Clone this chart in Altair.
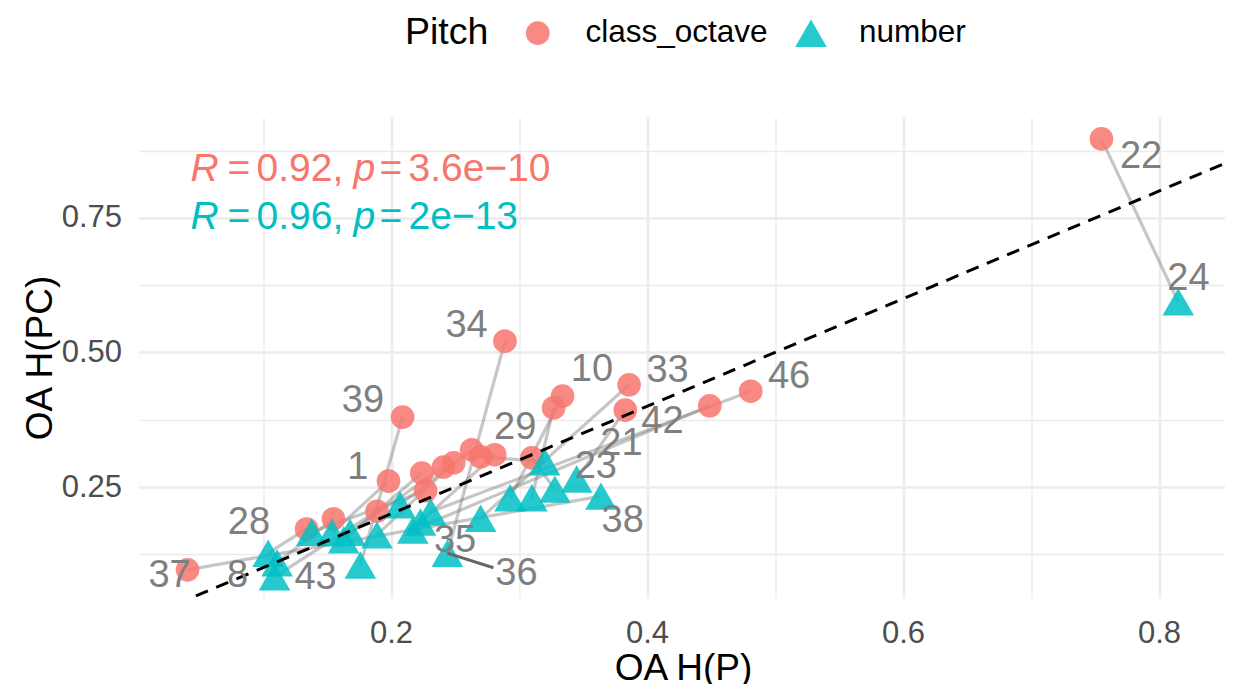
import altair as alt
import pandas as pd

# ---------------- data ----------------
pair_ids = list(range(1, 23))
octave_x = [0.755, 0.289, 0.209, 0.334, 0.327, 0.386, 0.383, 0.481, 0.449, 0.041, 0.310,
            0.134, 0.155, 0.189, 0.198, 0.224, 0.227, 0.241, 0.249, 0.263, 0.270, 0.281]
octave_y = [0.897, 0.521, 0.380, 0.419, 0.397, 0.440, 0.393, 0.428, 0.401, 0.096, 0.304,
            0.172, 0.191, 0.205, 0.261, 0.276, 0.243, 0.287, 0.295, 0.319, 0.306, 0.310]
number_x = [0.815, 0.244, 0.176, 0.293, 0.310, 0.270, 0.345, 0.231, 0.217, 0.364, 0.328,
            0.104, 0.111, 0.109, 0.154, 0.163, 0.138, 0.168, 0.189, 0.207, 0.320, 0.223]
number_y = [0.594, 0.127, 0.105, 0.230, 0.230, 0.192, 0.265, 0.204, 0.170, 0.233, 0.246,
            0.127, 0.109, 0.083, 0.165, 0.152, 0.166, 0.166, 0.161, 0.217, 0.297, 0.185]

categories = ["class_octave", "number"]
cat_colors = ["#F8766D", "#00BFC4"]
cat_shapes = ["circle", "triangle-up"]

label_text = ["22", "24", "37", "8", "43", "28", "1", "39", "34", "35", "36",
              "29", "10", "33", "21", "23", "38", "42", "46"]
label_x = [0.786, 0.823, 0.027, 0.080, 0.141, 0.089, 0.174, 0.178, 0.259, 0.250, 0.298,
           0.297, 0.357, 0.416, 0.380, 0.360, 0.381, 0.412, 0.511]
label_y = [0.863, 0.637, 0.085, 0.085, 0.081, 0.183, 0.285, 0.410, 0.549, 0.150, 0.088,
           0.360, 0.467, 0.466, 0.330, 0.287, 0.187, 0.370, 0.455]

leader_x = [0.244, 0.280]
leader_y = [0.127, 0.100]

ref_x = [0.0, 1.0]
ref_y = [0.0, 1.0]

x_grid = [0.1, 0.2, 0.3, 0.4, 0.5, 0.6, 0.7, 0.8]
y_grid = [0.125, 0.25, 0.375, 0.5, 0.625, 0.75, 0.875]

ann_r = ["0.92,", "0.96,"]
ann_p = ["3.6e\u221210", "2e\u221213"]

# ---------------- tables ----------------
pts = pd.DataFrame({
    "pair": pair_ids * 2,
    "Pitch": ["class_octave"] * len(octave_x) + ["number"] * len(number_x),
    "x": octave_x + number_x,
    "y": octave_y + number_y,
})
labels = pd.DataFrame({"label": label_text, "x": label_x, "y": label_y})
leader = pd.DataFrame({"x": leader_x, "y": leader_y})
ref = pd.DataFrame({"x": ref_x, "y": ref_y})

FONT = "Liberation Sans"
W, H = 1086.5, 481

xscale = alt.Scale(domain=[0.0027, 0.0027 + W / 1280], nice=False, zero=False)
yscale = alt.Scale(domain=[0.0437, 0.9377], nice=False, zero=False)

xaxis = alt.Axis(
    values=x_grid, title="OA H(P)",
    labelExpr="round(datum.value*10) % 2 == 0 ? format(datum.value, '.1f') : ''",
    ticks=False, tickSize=0, domain=False, labelOverlap=False, labelFlush=False,
    labelPadding=20, labelFontSize=31, labelColor="#4D4D4D", labelFont=FONT,
    titleFontSize=37, titleColor="black", titleFontWeight="normal", titleFont=FONT,
    titleX=544.5, titleY=81, titleBaseline="alphabetic", titleAlign="center",
    gridColor="#EBEBEB",
    gridWidth={"condition": {"test": "round(datum.value*10) % 2 == 0", "value": 2.6}, "value": 1.3},
)
yaxis = alt.Axis(
    values=y_grid, title="OA H(PC)",
    labelExpr="round(datum.value*8) % 2 == 0 ? format(datum.value, '.2f') : ''",
    ticks=False, tickSize=0, domain=False, labelOverlap=False, labelFlush=False,
    labelPadding=17, labelFontSize=31, labelColor="#4D4D4D", labelFont=FONT,
    titleFontSize=37, titleColor="black", titleFontWeight="normal", titleFont=FONT,
    titleX=-87.5, titleY=240.5, titleAngle=270, titleBaseline="alphabetic", titleAlign="center",
    gridColor="#EBEBEB",
    gridWidth={"condition": {"test": "round(datum.value*8) % 2 == 0", "value": 2.6}, "value": 1.3},
)

X = alt.X("x:Q", scale=xscale, axis=xaxis)
Y = alt.Y("y:Q", scale=yscale, axis=yaxis)

legend = alt.Legend(
    orient="none", legendX=266.5, legendY=-100, direction="horizontal",
    titleOrient="left", title="Pitch", titleFontSize=37.5, titleFontWeight="normal",
    titleColor="black", titleFont=FONT, titlePadding=33,
    labelFontSize=31.5, labelColor="black", labelFont=FONT, labelLimit=400,
    labelOffset=32, columnPadding=27, symbolStrokeWidth=0, symbolOpacity=0.85,
)

lines = alt.Chart(pts).mark_line(color="#808080", opacity=0.45, strokeWidth=3.2).encode(
    x=X, y=Y, detail="pair:N"
)

points = alt.Chart(pts).mark_point(filled=True, opacity=0.85, strokeWidth=0).encode(
    x=X, y=Y,
    color=alt.Color("Pitch:N", scale=alt.Scale(domain=categories, range=cat_colors), legend=legend),
    shape=alt.Shape("Pitch:N", scale=alt.Scale(domain=categories, range=cat_shapes), legend=legend),
    size=alt.Size("Pitch:N", scale=alt.Scale(domain=categories, range=[560, 1000]), legend=legend),
)

refline = alt.Chart(ref).mark_line(color="black", strokeDash=[13, 9], strokeWidth=3, clip=True).encode(
    x=X, y=Y
)

leader_seg = alt.Chart(leader).mark_line(color="#666666", strokeWidth=3).encode(x=X, y=Y)

label_marks = alt.Chart(labels).mark_text(
    fontSize=38, color="#7F7F7F", font=FONT, align="center", baseline="middle"
).encode(x=X, y=Y, text="label:N")

ann_layers = []
line_baselines = [64, 112]
for i in range(2):
    pieces = [("R", "italic", 52), ("=", "normal", 89), (ann_r[i], "normal", 118),
              ("p", "italic", 215), ("=", "normal", 241), (ann_p[i], "normal", 270)]
    for txt, style, px in pieces:
        ann_layers.append(
            alt.Chart(pd.DataFrame({"t": [txt]})).mark_text(
                align="left", baseline="alphabetic", fontSize=39, font=FONT,
                fontStyle=style, color=cat_colors[i]
            ).encode(x=alt.value(px), y=alt.value(line_baselines[i]), text="t:N")
        )

chart = alt.layer(lines, points, refline, leader_seg, label_marks, *ann_layers).properties(
    width=W, height=H,
    autosize=alt.AutoSizeParams(type="none"),
    padding={"left": 130.5, "top": 109, "right": 0, "bottom": 86},
).configure(font=FONT).configure_view(stroke=None)

chart.save("out.html", embed_options={"renderer": "svg", "actions": False})
